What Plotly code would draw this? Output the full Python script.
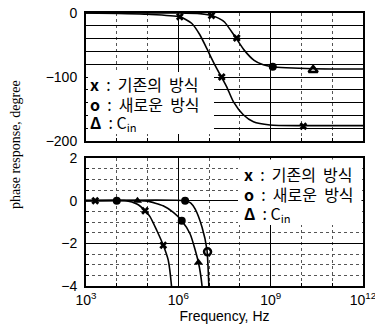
import plotly.graph_objects as go

# ---------------- data ----------------
# top panel (degrees, -200..0)
top_a_freq = [1e3, 1e6, 5e6, 1.2e7, 2e7, 3.16e7, 7.2e7, 1.38e8, 2.9e8, 5.75e8, 1.12e9, 3.16e9, 2.5e10, 1e12]
top_a_phase = [0, 0, -1, -4, -8, -14, -38, -58, -74, -81, -84, -85.5, -87, -87.5]

top_b_freq = [1e3, 1e5, 1.12e6, 2.7e6, 5.0e6, 8.3e6, 1.2e7, 1.78e7, 2.57e7, 3.7e7, 6.2e7, 1.29e8, 2.75e8, 9.5e8, 1e10, 1e12]
top_b_phase = [0, -2, -6, -16, -34, -55, -71, -87, -101, -115, -139, -159, -170, -175, -176, -176]

top_x_freq = [1.12e6, 2.57e7, 1.2e7, 7.9e7, 1.15e10]
top_x_phase = [-6, -100, -4, -39, -177]
top_o_freq = [1.17e9]
top_o_phase = [-84]
top_tri_freq = [2.4e10]
top_tri_phase = [-89]

# bottom panel (degrees, -4..2)
bot_x_freq = [1e3, 2e4, 4.5e4, 8.3e4, 1.2e5, 2e5, 3.24e5, 4.7e5, 6.0e5, 6.2e5]
bot_x_phase = [0, 0, -0.16, -0.47, -0.75, -1.4, -2.09, -2.79, -4.0, -4.3]

bot_tri_freq = [1e3, 5e4, 1e5, 3.2e5, 6.9e5, 1.29e6, 2.4e6, 4.5e6, 5.9e6, 6.1e6]
bot_tri_phase = [0, 0, -0.02, -0.24, -0.55, -0.94, -1.55, -2.9, -4.0, -4.3]

bot_o_freq = [1e3, 1.66e6, 2.5e6, 3.5e6, 5.9e6, 8.5e6, 9.8e6, 1.0e7]
bot_o_phase = [0, 0, -0.1, -0.39, -1.25, -2.3, -4.0, -4.3]

bot_mx_freq = [2e3, 8.3e4, 3.24e5]
bot_mx_phase = [0, -0.47, -2.09]
bot_mo_freq = [1e4, 1.66e6, 1.29e6]
bot_mo_phase = [0, 0, -0.94]
bot_mo2_freq = [8.9e6]
bot_mo2_phase = [-2.4]
bot_mt_freq = [4.7e4, 4.5e6]
bot_mt_phase = [0, -2.9]

x_tickvals = [1e3, 1e6, 1e9, 1e12]
x_ticktext = ["10<sup>3</sup>", "10<sup>6</sup>", "10<sup>9</sup>", "10<sup>12</sup>"]
x_minor = [1e4, 1e5, 1e7, 1e8, 1e10, 1e11]
top_yticks = [0, -100, -200]
top_yminor = [-20, -40, -60, -80, -120, -140, -160, -180]
bot_yticks = [2, 0, -2, -4]
bot_yminor = [1.5, 1, 0.5, -0.5, -1, -1.5, -2.5, -3, -3.5]

legend_labels = ["<b>x</b>  :  기존의  방식", "<b>o</b>  :  새로운  방식", "<b>Δ</b>  : C<sub>in</sub>"]

# ---------------- figure ----------------
# the page body adds an 8px margin, so the figure is 8px smaller and the
# margins are reduced to keep the plot area where it sits in the picture.
OFF = 8
W, H = 383 - OFF, 333 - OFF
PL, PR, PT, PB = 86, 363, 13, 286          # plot area in page pixels
ML, MR, MT, MB = PL - OFF, 383 - PR, PT - OFF, 333 - PB
PW, PH = PR - PL, PB - PT


def px(x):
    return (x - PL) / PW


def py(y):
    return (PB - y) / PH


fig = go.Figure()
line = dict(color="black", width=1.6, shape="spline", smoothing=0.6)

fig.add_trace(go.Scatter(x=top_a_freq, y=top_a_phase, mode="lines", line=line, xaxis="x", yaxis="y"))
fig.add_trace(go.Scatter(x=top_b_freq, y=top_b_phase, mode="lines", line=line, xaxis="x", yaxis="y"))
fig.add_trace(go.Scatter(x=top_x_freq, y=top_x_phase, mode="markers",
                         marker=dict(symbol="x", size=7, color="black"), xaxis="x", yaxis="y"))
fig.add_trace(go.Scatter(x=top_o_freq, y=top_o_phase, mode="markers",
                         marker=dict(symbol="circle", size=8, color="black"), xaxis="x", yaxis="y"))
fig.add_trace(go.Scatter(x=top_tri_freq, y=top_tri_phase, mode="markers",
                         marker=dict(symbol="triangle-up-open", size=8, color="black", line=dict(width=2.5)),
                         xaxis="x", yaxis="y"))

fig.add_trace(go.Scatter(x=bot_x_freq, y=bot_x_phase, mode="lines", line=line, xaxis="x2", yaxis="y2"))
fig.add_trace(go.Scatter(x=bot_tri_freq, y=bot_tri_phase, mode="lines", line=line, xaxis="x2", yaxis="y2"))
fig.add_trace(go.Scatter(x=bot_o_freq, y=bot_o_phase, mode="lines", line=line, xaxis="x2", yaxis="y2"))
fig.add_trace(go.Scatter(x=bot_mx_freq, y=bot_mx_phase, mode="markers",
                         marker=dict(symbol="x", size=7, color="black"), xaxis="x2", yaxis="y2"))
fig.add_trace(go.Scatter(x=bot_mo_freq, y=bot_mo_phase, mode="markers",
                         marker=dict(symbol="circle", size=8, color="black"), xaxis="x2", yaxis="y2"))
fig.add_trace(go.Scatter(x=bot_mo2_freq, y=bot_mo2_phase, mode="markers",
                         marker=dict(symbol="circle-open", size=7, color="black", line=dict(width=2.5)),
                         xaxis="x2", yaxis="y2"))
fig.add_trace(go.Scatter(x=bot_mt_freq, y=bot_mt_phase, mode="markers",
                         marker=dict(symbol="triangle-up", size=8, color="black"), xaxis="x2", yaxis="y2"))

tickfont = dict(family="Liberation Sans, Arial, sans-serif", size=14, color="black")
common_x = dict(type="log", range=[3, 12], tickvals=x_tickvals, ticktext=x_ticktext,
                showgrid=True, gridcolor="black", gridwidth=1.4,
                showline=True, mirror=True, linecolor="black", linewidth=2,
                ticks="inside", ticklen=4, tickcolor="black",
                minor=dict(tickvals=x_minor, showgrid=True, gridcolor="#555", griddash="dot",
                           gridwidth=1, ticks="inside", ticklen=3, tickcolor="black"),
                zeroline=False, tickfont=tickfont, ticklabeloverflow="allow")

fig.update_layout(
    width=W, height=H,
    margin=dict(l=ML, r=MR, t=MT, b=MB, autoexpand=False),
    paper_bgcolor="white", plot_bgcolor="white",
    showlegend=False,
    xaxis=dict(common_x, domain=[0, 1], anchor="y", showticklabels=False, matches="x2"),
    xaxis2=dict(common_x, domain=[0, 1], anchor="y2",
                title=dict(text="Frequency, Hz", standoff=2,
                           font=dict(family="Liberation Sans, Arial, sans-serif", size=14, color="black"))),
    yaxis=dict(domain=[py(141), 1], range=[-200, 0], tickvals=top_yticks,
               showgrid=True, gridcolor="black", gridwidth=1.4,
               showline=True, mirror=True, linecolor="black", linewidth=2,
               ticks="inside", ticklen=4, tickcolor="black", zeroline=False,
               minor=dict(tickvals=top_yminor, showgrid=True, gridcolor="black", gridwidth=1.4,
                          ticks="inside", ticklen=3, tickcolor="black"),
               tickfont=tickfont, ticklabelstandoff=4, ticklabeloverflow="allow"),
    yaxis2=dict(domain=[0, py(158)], range=[-4, 2], tickvals=bot_yticks,
                showgrid=True, gridcolor="black", gridwidth=1.4,
                showline=True, mirror=True, linecolor="black", linewidth=2,
                ticks="inside", ticklen=4, tickcolor="black", zeroline=False,
                minor=dict(tickvals=bot_yminor, showgrid=True, gridcolor="#555", griddash="dot",
                           gridwidth=1, ticks="inside", ticklen=3, tickcolor="black"),
                tickfont=tickfont, ticklabelstandoff=4, ticklabeloverflow="allow"),
)

# white boxes behind the in-plot legends
fig.add_shape(type="rect", xref="paper", yref="paper",
              x0=px(88), x1=px(214), y0=py(134), y1=py(72),
              fillcolor="white", line=dict(width=0), layer="above")
fig.add_shape(type="rect", xref="paper", yref="paper",
              x0=px(238), x1=px(361.5), y0=py(225), y1=py(159.5),
              fillcolor="white", line=dict(width=0), layer="above")

kfont = dict(family="Noto Sans CJK KR, Liberation Sans, sans-serif", size=16, color="black")
top_rows = [84, 104, 123]
bot_rows = [174, 194, 214]
for i in range(3):
    fig.add_annotation(x=px(88), y=py(top_rows[i]), xref="paper", yref="paper", height=18,
                       text=legend_labels[i], showarrow=False, xanchor="left", yanchor="middle", font=kfont)
    fig.add_annotation(x=px(242), y=py(bot_rows[i]), xref="paper", yref="paper", height=18,
                       text=legend_labels[i], showarrow=False, xanchor="left", yanchor="middle", font=kfont)

fig.add_annotation(x=px(16), y=py(145), xref="paper", yref="paper",
                   text="phase response, degree", textangle=-90, showarrow=False,
                   xanchor="center", yanchor="middle",
                   font=dict(family="Liberation Serif, Times New Roman, serif", size=14, color="black"))

fig.write_html("out.html")
